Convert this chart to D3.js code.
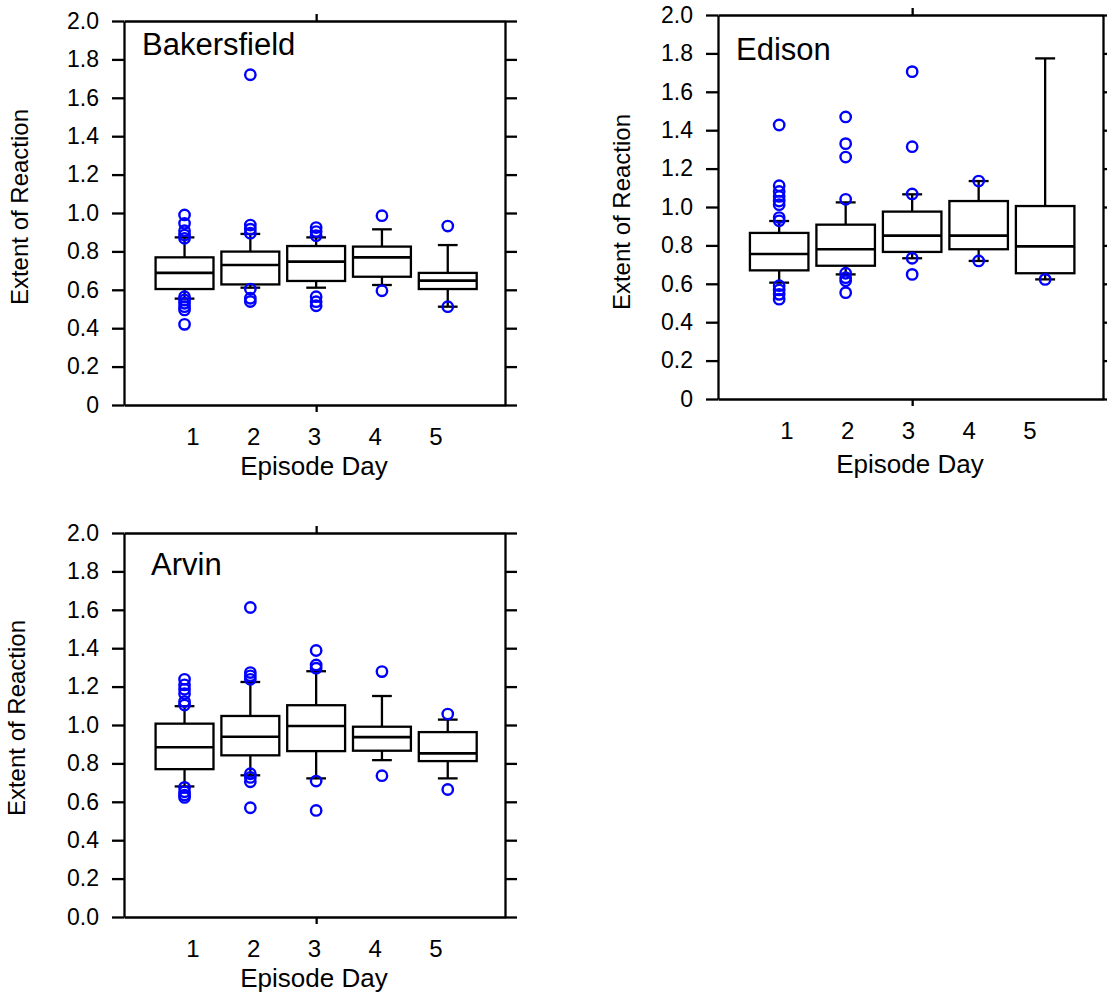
<!DOCTYPE html>
<html>
<head>
<meta charset="utf-8">
<script src="https://cdn.jsdelivr.net/npm/d3@7"></script>
<style>
  body { margin: 0; background: #fff; }
  svg { display: block; font-family: "Liberation Sans", Arial, Helvetica, sans-serif; }
</style>
</head>
<body>
<svg id="chart" width="1107" height="995"></svg>
<script>
// values
const days = [1, 2, 3, 4, 5];
const yTicks = [0, 0.2, 0.4, 0.6, 0.8, 1.0, 1.2, 1.4, 1.6, 1.8, 2.0];

const bakersfieldLow = [0.554, 0.611, 0.611, 0.625, 0.512];
const bakersfieldQ1 = [0.604, 0.628, 0.646, 0.668, 0.604];
const bakersfieldMedian = [0.688, 0.729, 0.747, 0.769, 0.648];
const bakersfieldQ3 = [0.769, 0.799, 0.828, 0.825, 0.688];
const bakersfieldHigh = [0.873, 0.891, 0.873, 0.915, 0.833];
const bakersfieldOutliers = [
    [0.99, 0.946, 0.908, 0.885, 0.868, 0.564, 0.547, 0.53, 0.512, 0.495, 0.42],
    [1.72, 0.937, 0.916, 0.895, 0.604, 0.556, 0.539],
    [0.924, 0.903, 0.882, 0.564, 0.538, 0.517],
    [0.986, 0.595],
    [0.932, 0.512]
];

const edisonLow = [0.606, 0.649, 0.733, 0.719, 0.623];
const edisonQ1 = [0.670, 0.694, 0.766, 0.780, 0.655];
const edisonMedian = [0.755, 0.780, 0.851, 0.851, 0.795];
const edisonQ3 = [0.865, 0.908, 0.976, 1.031, 1.005];
const edisonHigh = [0.927, 1.024, 1.066, 1.135, 1.774];
const edisonOutliers = [
    [1.427, 1.111, 1.081, 1.055, 1.031, 1.012, 0.945, 0.928, 0.59, 0.568, 0.545, 0.52],
    [1.469, 1.33, 1.26, 1.04, 0.655, 0.632, 0.616, 0.554],
    [1.705, 1.314, 1.068, 0.733, 0.649],
    [1.135, 0.719],
    [0.623]
];

const arvinLow = [0.680, 0.738, 0.722, 0.817, 0.722];
const arvinQ1 = [0.770, 0.842, 0.864, 0.866, 0.812];
const arvinMedian = [0.884, 0.939, 0.995, 0.937, 0.852];
const arvinQ3 = [1.007, 1.047, 1.103, 0.991, 0.963];
const arvinHigh = [1.098, 1.224, 1.280, 1.151, 1.028];
const arvinOutliers = [
    [1.238, 1.209, 1.186, 1.163, 1.122, 1.104, 0.675, 0.652, 0.635, 0.623],
    [1.612, 1.273, 1.256, 1.238, 0.746, 0.727, 0.704, 0.569],
    [1.388, 1.313, 1.296, 0.708, 0.555],
    [1.278, 0.736],
    [1.057, 0.664]
];

function makeBoxes(low, q1, med, q3, high, outliers) {
    return days.map((d, i) => ({ day: d, low: low[i], q1: q1[i], med: med[i], q3: q3[i], high: high[i], out: outliers[i] }));
}

// panel layout (pixels)
const panels = [
    { name: "Bakersfield", boxes: makeBoxes(bakersfieldLow, bakersfieldQ1, bakersfieldMedian, bakersfieldQ3, bakersfieldHigh, bakersfieldOutliers),
      left: 124, right: 505, top: 21, bottom: 405, zeroLabel: "0",
      titleX: 142, titleY: 55, yTitleX: 20, yTitleY: 207, xTitleX: 314, xTitleY: 475 },
    { name: "Edison", boxes: makeBoxes(edisonLow, edisonQ1, edisonMedian, edisonQ3, edisonHigh, edisonOutliers),
      left: 718, right: 1103, top: 15, bottom: 399, zeroLabel: "0",
      titleX: 736, titleY: 60, yTitleX: 622, yTitleY: 212, xTitleX: 910, xTitleY: 473 },
    { name: "Arvin", boxes: makeBoxes(arvinLow, arvinQ1, arvinMedian, arvinQ3, arvinHigh, arvinOutliers),
      left: 124, right: 505, top: 533, bottom: 917, zeroLabel: "0.0",
      titleX: 151, titleY: 575, yTitleX: 17, yTitleY: 718, xTitleX: 314, xTitleY: 987 }
];

const svg = d3.select("#chart");
const lw = 2.3;

panels.forEach(p => {
    let g = svg.append("g");
    let x = d3.scaleLinear().domain([0.08, 5.87]).range([p.left, p.right]);
    let y = d3.scaleLinear().domain([0, 2]).range([p.bottom, p.top]);
    // tick labels under the boxes sit on their own, slightly tighter spacing
    let labelX = d3.scaleLinear().domain([1, 5]).range([p.left + 69, p.left + 312]);
    let step = x(2) - x(1);
    let boxW = step * 0.88, capW = step * 0.3;
    let fmt = v => v === 0 ? p.zeroLabel : d3.format(".1f")(v);

    let yLeft = g.append("g").attr("transform", `translate(${p.left},0)`)
        .call(d3.axisLeft(y).tickValues(yTicks).tickSize(12).tickSizeOuter(0).tickPadding(13).tickFormat(fmt));
    let yRight = g.append("g").attr("transform", `translate(${p.right},0)`)
        .call(d3.axisRight(y).tickValues(yTicks).tickSize(12).tickSizeOuter(0).tickFormat(""));
    let xBottom = g.append("g").attr("transform", `translate(0,${p.bottom})`)
        .call(d3.axisBottom(x).tickValues([3]).tickSize(7).tickSizeOuter(0).tickFormat(""));
    let xTop = g.append("g").attr("transform", `translate(0,${p.top})`)
        .call(d3.axisTop(x).tickValues([3]).tickSize(7).tickSizeOuter(0).tickFormat(""));

    [yLeft, yRight, xBottom, xTop].forEach(a => {
        a.attr("font-family", null);
        a.selectAll("path, line").attr("stroke", "#000").attr("stroke-width", lw);
    });
    yLeft.selectAll("text").attr("font-size", 23).attr("fill", "#000");

    g.append("g").selectAll("text")
        .data(days)
        .join("text")
        .attr("x", d => labelX(d))
        .attr("y", p.bottom + 40)
        .attr("text-anchor", "middle")
        .attr("font-size", 24)
        .text(d => d);

    // boxes
    let box = g.append("g").selectAll("g")
        .data(p.boxes)
        .join("g");

    box.append("line")
        .attr("x1", d => x(d.day)).attr("x2", d => x(d.day))
        .attr("y1", d => y(d.q3)).attr("y2", d => y(d.high))
        .attr("stroke", "#000").attr("stroke-width", lw);
    box.append("line")
        .attr("x1", d => x(d.day)).attr("x2", d => x(d.day))
        .attr("y1", d => y(d.q1)).attr("y2", d => y(d.low))
        .attr("stroke", "#000").attr("stroke-width", lw);
    box.append("line")
        .attr("x1", d => x(d.day) - capW / 2).attr("x2", d => x(d.day) + capW / 2)
        .attr("y1", d => y(d.high)).attr("y2", d => y(d.high))
        .attr("stroke", "#000").attr("stroke-width", lw);
    box.append("line")
        .attr("x1", d => x(d.day) - capW / 2).attr("x2", d => x(d.day) + capW / 2)
        .attr("y1", d => y(d.low)).attr("y2", d => y(d.low))
        .attr("stroke", "#000").attr("stroke-width", lw);
    box.append("rect")
        .attr("x", d => x(d.day) - boxW / 2)
        .attr("width", boxW)
        .attr("y", d => y(d.q3))
        .attr("height", d => y(d.q1) - y(d.q3))
        .attr("fill", "#fff").attr("stroke", "#000").attr("stroke-width", lw);
    box.append("line")
        .attr("x1", d => x(d.day) - boxW / 2).attr("x2", d => x(d.day) + boxW / 2)
        .attr("y1", d => y(d.med)).attr("y2", d => y(d.med))
        .attr("stroke", "#000").attr("stroke-width", 2.6);

    box.selectAll("circle")
        .data(d => d.out.map(v => ({ day: d.day, v: v })))
        .join("circle")
        .attr("cx", d => x(d.day))
        .attr("cy", d => y(d.v))
        .attr("r", 5.2)
        .attr("fill", "none")
        .attr("stroke", "#0000ff")
        .attr("stroke-width", 2.4);

    g.append("text")
        .attr("x", p.titleX).attr("y", p.titleY)
        .attr("font-size", 31)
        .text(p.name);

    g.append("text")
        .attr("x", p.xTitleX).attr("y", p.xTitleY)
        .attr("text-anchor", "middle")
        .attr("font-size", 26)
        .text("Episode Day");

    g.append("text")
        .attr("transform", `translate(${p.yTitleX},${p.yTitleY}) rotate(-90)`)
        .attr("text-anchor", "middle")
        .attr("dy", "0.35em")
        .attr("font-size", 24)
        .text("Extent of Reaction");
});
</script>
</body>
</html>
